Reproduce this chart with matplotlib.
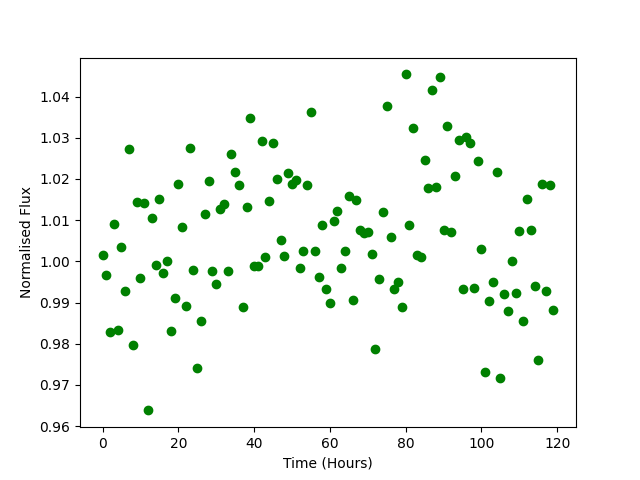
import numpy as np
import matplotlib
matplotlib.use("Agg")
import matplotlib.pyplot as plt

# Horas de observación (una por hora)
hours = np.arange(0, 120)

# Flujo normalizado
flux = [
    1.0015, 0.9967, 0.9828, 1.0090, 0.9834, 1.0035, 0.9927, 1.0273, 0.9796, 1.0145,
    0.9960, 1.0142, 0.9638, 1.0106, 0.9990, 1.0152, 0.9972, 1.0000, 0.9832, 0.9910,
    1.0188, 1.0084, 0.9891, 1.0276, 0.9980, 0.9740, 0.9854, 1.0116, 1.0195, 0.9977,
    0.9944, 1.0126, 1.0140, 0.9977, 1.0261, 1.0218, 1.0185, 0.9889, 1.0131, 1.0348,
    0.9988, 0.9988, 1.0292, 1.0010, 1.0147, 1.0287, 1.0201, 1.0052, 1.0013, 1.0214,
    1.0188, 1.0197, 0.9985, 1.0024, 1.0185, 1.0362, 1.0024, 0.9963, 1.0089, 0.9934,
    0.9900, 1.0099, 1.0123, 0.9985, 1.0024, 1.0159, 0.9905, 1.0150, 1.0075, 1.0068,
    1.0072, 1.0017, 0.9786, 0.9958, 1.0121, 1.0377, 1.0059, 0.9932, 0.9949, 0.9890,
    1.0454, 1.0089, 1.0324, 1.0015, 1.0010, 1.0247, 1.0179, 1.0415, 1.0180, 1.0447,
    1.0075, 1.0328, 1.0072, 1.0207, 1.0295, 0.9934, 1.0302, 1.0288, 0.9936, 1.0244,
    1.0031, 0.9731, 0.9903, 0.9951, 1.0218, 0.9716, 0.9920, 0.9880, 1.0002, 0.9924,
    1.0073, 0.9855, 1.0152, 1.0077, 0.9941, 0.9760, 1.0188, 0.9929, 1.0185, 0.9881,
]

plt.figure(figsize=(6.4, 4.8), dpi=100)
plt.plot(hours, flux, "o", color="green")
plt.xlabel("Time (Hours)")
plt.ylabel("Normalised Flux")
plt.savefig("out.png")
